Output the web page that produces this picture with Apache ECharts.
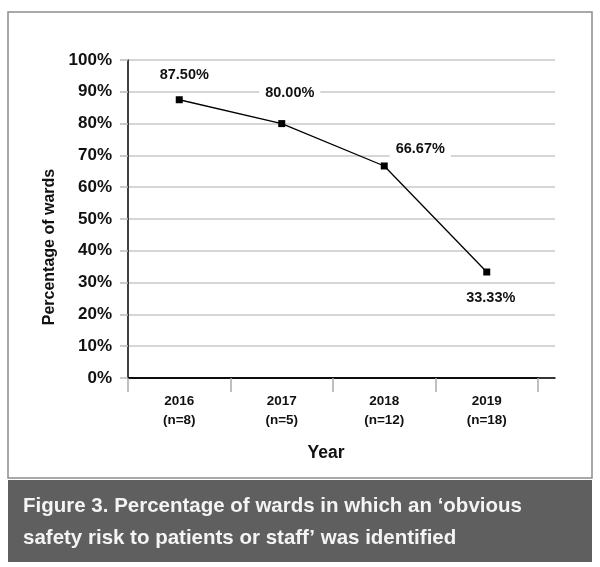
<!DOCTYPE html>
<html><head><meta charset="utf-8">
<script src="https://cdn.jsdelivr.net/npm/echarts@6/dist/echarts.min.js"></script>
<style>html,body{margin:0;padding:0;background:#fff}#c{width:600px;height:567px}</style>
</head><body><div id="c"></div>
<script>
const years = ['2016', '2017', '2018', '2019'];
const sampleSizes = ['n=8', 'n=5', 'n=12', 'n=18'];
const percentWards = [87.5, 80.0, 66.67, 33.33];
const captionLines = [
  'Figure 3. Percentage of wards in which an \u2018obvious',
  'safety risk to patients or staff\u2019 was identified'
];
const yAxisTitle = 'Percentage of wards';
const xAxisTitle = 'Year';

// label placement (styling, not data)
const labelOffsets = [[5, -25], [8, -31], [36, -17], [4, 26]];

const FONT = "'Liberation Sans', Arial, sans-serif";
const chart = echarts.init(document.getElementById('c'), null, {renderer: 'canvas'});
chart.setOption({
  animation: false,
  textStyle: {fontFamily: FONT},
  grid: [
    {left: 128, top: 60, width: 427, height: 318},
    {left: 128, top: 60, width: 410, height: 318}
  ],
  xAxis: [
    {
      gridIndex: 1, type: 'category',
      data: years.map((y, i) => y + '\n(' + sampleSizes[i] + ')'),
      boundaryGap: true,
      axisLine: {show: true, lineStyle: {color: '#000', width: 1.5}},
      axisTick: {show: true, length: 14, lineStyle: {color: '#aaa', width: 1.5}},
      axisLabel: {margin: 14, fontSize: 13.5, fontWeight: 'bold', lineHeight: 19, color: '#111', fontFamily: FONT},
      splitLine: {show: false},
      name: xAxisTitle, nameLocation: 'middle', nameGap: 66,
      nameTextStyle: {fontSize: 17.5, fontWeight: 'bold', color: '#111', fontFamily: FONT, padding: [0, 14, 0, 0]}
    },
    {
      gridIndex: 0, type: 'value', min: 0, max: 1,
      axisLine: {show: true, lineStyle: {color: '#000', width: 1.5}},
      axisTick: {show: false}, axisLabel: {show: false}, splitLine: {show: false}
    }
  ],
  yAxis: [
    {
      gridIndex: 0, type: 'value', min: 0, max: 100, interval: 10,
      axisLine: {show: true, lineStyle: {color: '#000', width: 1.5}},
      axisTick: {show: true, length: 8, lineStyle: {color: '#bbb', width: 1.5}},
      axisLabel: {formatter: '{value}%', margin: 16, fontSize: 17, fontWeight: 'bold', color: '#111', fontFamily: FONT},
      splitLine: {show: true, lineStyle: {color: '#c8c8c8', width: 1.5}},
      name: yAxisTitle, nameLocation: 'middle', nameGap: 70,
      nameTextStyle: {fontSize: 16, fontWeight: 'bold', color: '#111', fontFamily: FONT, padding: [0, 56, 0, 0]}
    },
    {gridIndex: 1, type: 'value', min: 0, max: 100, show: false}
  ],
  series: [{
    type: 'line', xAxisIndex: 0, yAxisIndex: 1,
    data: percentWards.map((v, i) => ({value: v, label: {offset: labelOffsets[i]}})),
    symbol: 'rect', symbolSize: 7,
    itemStyle: {color: '#000'},
    lineStyle: {color: '#000', width: 1.3},
    label: {
      show: true, position: 'inside',
      formatter: p => p.value.toFixed(2) + '%',
      fontSize: 14.5, fontWeight: 'bold', color: '#111', fontFamily: FONT,
      backgroundColor: '#fff', padding: [2, 6]
    },
    z: 5
  }],
  graphic: [
    {type: 'rect', shape: {x: 8, y: 12, width: 584, height: 466}, style: {fill: 'none', stroke: '#8c8c8c', lineWidth: 1.5}, z: -1},
    {type: 'rect', shape: {x: 8, y: 480, width: 584, height: 82}, style: {fill: '#5f5f5f'}},
    {type: 'text', x: 23, y: 506, style: {text: captionLines[0], fill: '#f4f4f4', font: 'bold 20.5px ' + FONT, textVerticalAlign: 'middle'}},
    {type: 'text', x: 23, y: 538, style: {text: captionLines[1], fill: '#f4f4f4', font: 'bold 20.5px ' + FONT, textVerticalAlign: 'middle'}}
  ]
});
</script></body></html>
